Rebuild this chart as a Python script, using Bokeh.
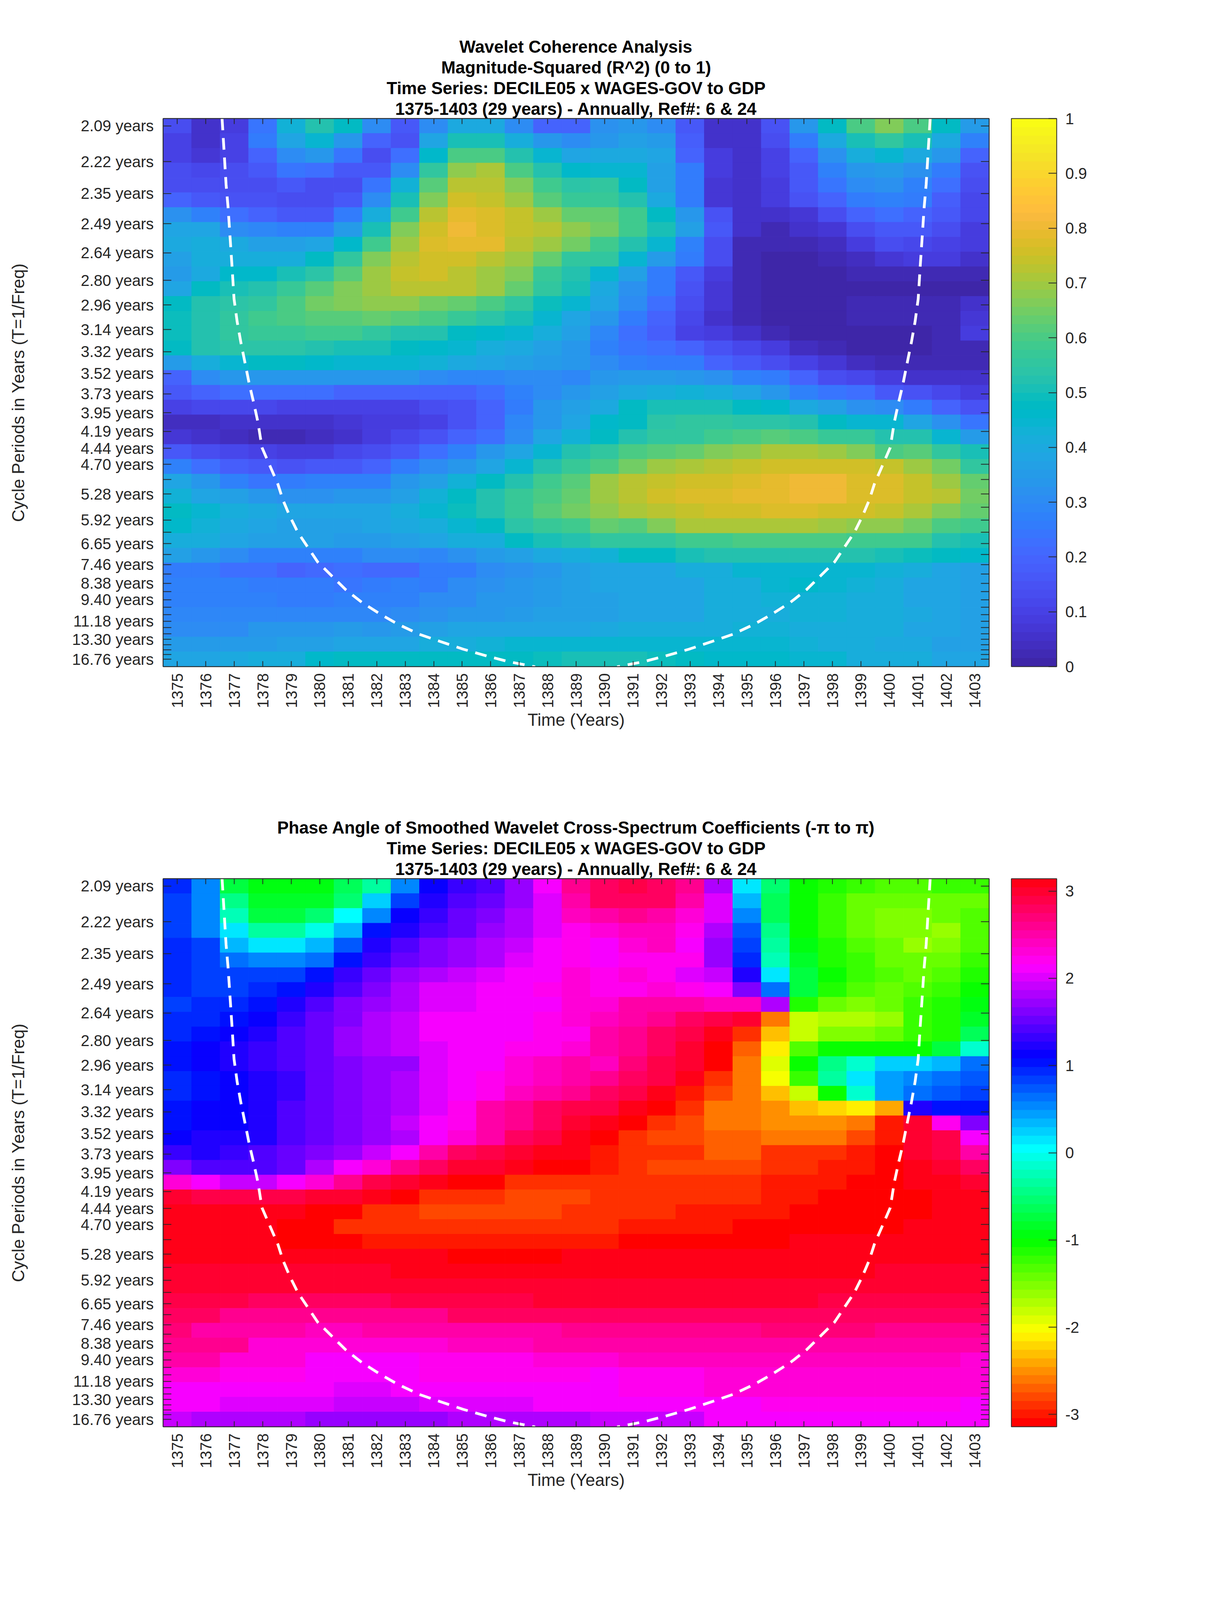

import numpy as np
from bokeh.plotting import figure
from bokeh.layouts import column
from bokeh.models import (ColumnDataSource, LinearColorMapper, ColorBar, FixedTicker,
                          LinearAxis, Range1d, Title)
from bokeh.embed import file_html
from bokeh.resources import INLINE

years = list(range(1375, 1404))
periods = [2.09,2.22,2.35,2.49,2.64,2.80,2.96,3.14,3.32,3.52,3.73,3.95,4.19,4.44,4.70,4.98,5.28,5.59,5.92,6.27,
           6.65,7.04,7.46,7.90,8.38,8.88,9.40,9.96,10.55,11.18,11.85,12.55,13.30,14.09,14.93,15.82,16.76]
hidden_labels = [4.98,5.59,6.27,7.04,7.90,8.88,9.96,10.55,11.85,12.55,14.09,14.93,15.82]

coherence = [
[.14,.05,.08,.24,.43,.52,.47,.30,.17,.30,.40,.40,.30,.20,.19,.32,.33,.30,.17,.05,.06,.15,.33,.47,.60,.67,.60,.48,.35],
[.10,.05,.10,.25,.38,.44,.33,.19,.15,.38,.50,.50,.42,.33,.30,.33,.36,.35,.18,.06,.06,.13,.25,.40,.50,.55,.50,.40,.27],
[.10,.07,.10,.20,.31,.33,.24,.14,.22,.46,.60,.60,.52,.45,.38,.40,.40,.38,.20,.08,.06,.10,.20,.32,.42,.45,.40,.33,.20],
[.13,.12,.13,.16,.24,.22,.16,.16,.31,.55,.68,.71,.60,.53,.46,.45,.45,.36,.25,.08,.06,.10,.17,.27,.34,.35,.32,.25,.15],
[.13,.13,.13,.14,.16,.14,.14,.24,.43,.62,.73,.73,.66,.58,.54,.55,.47,.36,.25,.07,.05,.09,.16,.24,.30,.32,.28,.22,.14],
[.20,.17,.15,.15,.14,.14,.16,.31,.50,.66,.75,.74,.70,.62,.57,.57,.52,.40,.26,.07,.05,.08,.15,.20,.26,.28,.26,.18,.12],
[.32,.28,.23,.20,.17,.17,.25,.42,.59,.73,.79,.77,.74,.70,.64,.64,.58,.48,.34,.15,.05,.05,.07,.13,.20,.22,.20,.16,.12],
[.38,.38,.31,.29,.27,.28,.35,.50,.66,.75,.80,.78,.74,.72,.68,.65,.58,.50,.37,.17,.05,.02,.05,.07,.14,.16,.16,.14,.09],
[.40,.42,.40,.37,.36,.38,.46,.58,.70,.77,.79,.79,.72,.70,.65,.58,.52,.45,.28,.14,.03,.02,.02,.04,.09,.13,.12,.10,.08],
[.37,.42,.42,.41,.42,.48,.55,.66,.73,.76,.76,.72,.70,.64,.56,.55,.45,.35,.25,.13,.03,.01,.01,.02,.04,.07,.08,.08,.05],
[.35,.40,.46,.46,.50,.54,.62,.70,.74,.75,.73,.70,.66,.57,.52,.45,.36,.26,.17,.08,.03,.01,.01,.01,.02,.02,.03,.03,.03],
[.39,.47,.50,.53,.57,.61,.66,.70,.73,.73,.72,.70,.63,.55,.50,.40,.32,.25,.15,.07,.03,.01,.01,.01,.01,.01,.00,.00,.00],
[.47,.52,.54,.56,.60,.65,.67,.68,.68,.65,.63,.60,.55,.49,.44,.38,.30,.22,.14,.07,.03,.01,.01,.01,.02,.02,.02,.02,.05],
[.49,.53,.56,.59,.60,.62,.62,.63,.62,.60,.57,.54,.50,.44,.38,.33,.25,.19,.12,.06,.03,.01,.01,.01,.02,.02,.02,.02,.07],
[.49,.53,.55,.57,.57,.59,.59,.56,.53,.53,.48,.46,.45,.42,.36,.29,.22,.18,.10,.09,.06,.03,.01,.01,.01,.01,.01,.03,.08],
[.47,.52,.54,.54,.54,.52,.50,.50,.47,.46,.44,.42,.40,.37,.34,.28,.24,.22,.20,.15,.12,.08,.04,.03,.01,.01,.01,.02,.03],
[.35,.42,.45,.47,.47,.46,.45,.44,.44,.43,.40,.39,.37,.35,.33,.30,.28,.26,.26,.20,.17,.13,.10,.07,.04,.03,.03,.03,.02],
[.20,.30,.33,.33,.33,.34,.33,.33,.33,.30,.29,.29,.30,.30,.29,.33,.35,.35,.34,.32,.27,.25,.20,.14,.12,.08,.06,.05,.05],
[.16,.20,.22,.22,.22,.22,.20,.20,.20,.20,.20,.22,.27,.30,.33,.36,.40,.42,.43,.42,.38,.34,.27,.24,.22,.17,.15,.12,.08],
[.10,.11,.11,.12,.10,.10,.10,.10,.10,.13,.15,.19,.25,.33,.37,.40,.47,.50,.50,.50,.48,.46,.40,.36,.32,.30,.25,.20,.15],
[.04,.04,.05,.05,.05,.05,.07,.08,.09,.10,.15,.19,.29,.33,.38,.46,.48,.54,.55,.55,.54,.54,.52,.48,.45,.45,.38,.32,.24],
[.07,.06,.04,.02,.02,.04,.06,.08,.11,.15,.20,.23,.31,.38,.43,.47,.52,.56,.56,.58,.60,.62,.60,.57,.57,.53,.52,.45,.35],
[.16,.14,.11,.10,.09,.09,.11,.13,.16,.22,.28,.33,.38,.44,.52,.56,.60,.62,.63,.66,.68,.71,.71,.70,.67,.60,.62,.55,.50],
[.27,.22,.18,.16,.15,.16,.17,.20,.25,.30,.34,.38,.45,.52,.57,.60,.65,.69,.71,.73,.74,.75,.75,.75,.75,.74,.70,.65,.56],
[.38,.33,.28,.24,.25,.27,.27,.28,.33,.37,.43,.47,.52,.58,.61,.69,.72,.74,.75,.76,.78,.79,.81,.81,.78,.78,.74,.70,.63],
[.43,.38,.36,.34,.32,.32,.33,.34,.37,.43,.48,.52,.57,.60,.63,.70,.73,.75,.77,.78,.79,.79,.81,.81,.78,.78,.74,.72,.65],
[.47,.44,.41,.40,.39,.38,.38,.39,.42,.45,.49,.53,.57,.62,.65,.68,.71,.73,.74,.75,.76,.77,.77,.76,.75,.74,.71,.67,.64],
[.46,.43,.40,.38,.37,.37,.37,.38,.40,.41,.45,.48,.54,.57,.59,.63,.62,.66,.71,.71,.71,.71,.71,.69,.68,.68,.65,.60,.58],
[.41,.41,.38,.37,.36,.36,.35,.35,.36,.38,.41,.42,.47,.50,.52,.55,.56,.56,.58,.58,.60,.60,.60,.60,.58,.58,.58,.53,.50],
[.37,.33,.31,.28,.28,.28,.28,.30,.30,.29,.32,.35,.37,.40,.42,.43,.47,.48,.50,.52,.52,.52,.52,.52,.52,.50,.49,.47,.46],
[.25,.25,.22,.22,.20,.21,.22,.21,.21,.25,.25,.30,.32,.34,.36,.38,.39,.39,.42,.42,.44,.45,.45,.45,.44,.43,.41,.39,.37],
[.27,.27,.27,.25,.25,.25,.24,.25,.27,.26,.30,.32,.33,.35,.36,.38,.38,.39,.39,.41,.42,.45,.46,.44,.43,.41,.39,.38,.36],
[.27,.27,.27,.27,.26,.26,.27,.27,.28,.30,.31,.33,.34,.35,.36,.37,.38,.38,.39,.41,.42,.43,.43,.43,.42,.41,.39,.38,.36],
[.29,.29,.29,.29,.29,.29,.29,.29,.31,.32,.33,.34,.35,.36,.37,.37,.38,.38,.38,.41,.42,.42,.43,.43,.42,.41,.40,.39,.37],
[.31,.31,.31,.34,.34,.34,.35,.34,.35,.37,.38,.38,.38,.39,.39,.40,.41,.41,.41,.42,.43,.43,.42,.41,.41,.41,.39,.38,.36],
[.35,.35,.35,.35,.37,.37,.38,.38,.38,.41,.42,.43,.44,.44,.44,.45,.45,.45,.45,.45,.45,.44,.43,.42,.41,.40,.40,.37,.36],
[.39,.39,.40,.41,.42,.46,.47,.48,.48,.48,.47,.47,.48,.49,.50,.50,.50,.49,.48,.46,.46,.46,.45,.45,.42,.42,.41,.38,.38],
]

phase = [
[.95,.55,-.7,-.95,-.95,-.95,-.65,-.3,.5,1.1,1.35,1.4,1.75,2.1,2.6,2.75,2.9,2.8,2.6,1.8,.15,-.55,-1.0,-1.15,-1.25,-1.3,-1.3,-1.25,-1.25],
[.8,.5,-.4,-.85,-.85,-.85,-.55,.2,.8,1.25,1.4,1.5,1.7,2.0,2.5,2.75,2.8,2.75,2.5,2.0,.35,-.6,-1.05,-1.25,-1.4,-1.4,-1.4,-1.4,-1.4],
[.8,.5,-.2,-.75,-.75,-.55,0.0,.5,1.15,1.35,1.5,1.6,1.8,2.05,2.45,2.5,2.6,2.55,2.35,2.0,.55,-.6,-1.05,-1.25,-1.4,-1.55,-1.55,-1.4,-1.35],
[.8,.55,.1,-.3,-.3,-.05,.3,1.0,1.2,1.4,1.55,1.7,1.85,2.05,2.25,2.35,2.45,2.4,2.25,1.8,.75,-.4,-1.0,-1.2,-1.4,-1.5,-1.55,-1.6,-1.35],
[.95,.8,.35,.1,.1,.3,.75,1.2,1.4,1.6,1.75,1.8,1.95,2.1,2.25,2.1,2.35,2.4,2.15,1.75,.85,-.35,-.95,-1.15,-1.35,-1.45,-1.6,-1.5,-1.35],
[.95,.85,.65,.5,.5,.65,1.05,1.35,1.5,1.65,1.75,1.85,2.0,2.1,2.25,2.15,2.25,2.25,2.2,1.75,.95,-.2,-.85,-1.1,-1.25,-1.4,-1.4,-1.4,-1.2],
[.95,.85,.8,.8,.8,1.0,1.3,1.5,1.7,1.85,1.9,2.0,2.1,2.15,2.3,2.2,2.3,2.25,2.05,1.95,1.2,.15,-.75,-1.05,-1.2,-1.35,-1.4,-1.3,-1.15],
[.95,.85,.85,.95,1.0,1.2,1.4,1.6,1.85,2.0,2.0,2.1,2.1,2.25,2.35,2.2,2.2,2.3,2.2,2.1,1.65,.6,-.75,-1.1,-1.35,-1.45,-1.35,-1.2,-1.0],
[.85,.95,.95,1.0,1.25,1.4,1.6,1.75,1.85,2.0,2.0,2.1,2.1,2.15,2.35,2.3,2.5,2.5,2.5,2.45,2.4,1.85,-1.15,-1.4,-1.5,-1.4,-1.2,-1.1,-.9],
[.95,.95,1.0,1.1,1.3,1.5,1.65,1.8,1.95,2.1,2.1,2.1,2.1,2.2,2.3,2.4,2.55,2.65,2.75,2.85,3.0,-2.6,-1.85,-1.75,-1.75,-1.6,-1.2,-1.1,-.85],
[.95,1.05,1.1,1.25,1.45,1.55,1.7,1.85,1.95,2.1,2.1,2.1,2.15,2.2,2.25,2.5,2.6,2.8,2.85,3.1,-2.85,-2.35,-1.8,-1.55,-1.55,-1.4,-1.2,-1.1,-.6],
[1.05,1.15,1.2,1.35,1.4,1.55,1.75,1.85,1.9,2.05,2.1,2.1,2.2,2.2,2.3,2.5,2.65,2.8,2.95,-3.14,-2.7,-2.1,-1.35,-1.05,-1.0,-1.0,-1.0,-.75,-.1],
[1.05,1.15,1.2,1.35,1.4,1.5,1.6,1.7,1.75,2.05,2.1,2.15,2.3,2.4,2.5,2.45,2.7,2.85,3.0,-3.05,-2.6,-1.95,-1.05,-.45,-.1,.2,.25,.35,.6],
[.95,1.05,1.1,1.2,1.35,1.5,1.6,1.7,1.8,2.0,2.1,2.2,2.3,2.4,2.5,2.6,2.8,2.9,3.1,-2.9,-2.6,-2.05,-1.2,-.3,.15,.4,.55,.65,.7],
[.95,1.05,1.1,1.25,1.35,1.5,1.6,1.7,1.85,2.0,2.15,2.25,2.4,2.5,2.6,2.75,2.85,3.1,-3.0,-2.8,-2.6,-2.35,-1.85,-1.05,-.1,.4,.6,.7,.8],
[1.05,1.1,1.15,1.25,1.45,1.55,1.65,1.7,1.85,2.0,2.2,2.5,2.6,2.8,2.85,2.9,3.05,-3.14,-2.85,-2.6,-2.6,-2.5,-2.35,-2.25,-2.1,-2.45,1.2,1.05,1.05],
[1.05,1.1,1.15,1.2,1.4,1.5,1.6,1.75,1.9,2.1,2.2,2.5,2.65,2.8,2.95,3.05,-3.14,-2.85,-2.75,-2.65,-2.6,-2.55,-2.5,-2.5,-2.65,-2.95,2.95,2.25,1.65],
[1.15,1.2,1.25,1.25,1.4,1.5,1.6,1.75,1.85,2.1,2.3,2.55,2.75,2.85,3.05,-3.14,-2.85,-2.8,-2.8,-2.7,-2.7,-2.6,-2.65,-2.65,-2.8,-3.0,3.0,2.85,2.1],
[1.35,1.25,1.3,1.45,1.55,1.6,1.7,1.95,2.1,2.55,2.8,2.9,2.95,3.1,3.14,-3.0,-2.9,-2.85,-2.85,-2.7,-2.7,-2.85,-2.85,-2.9,-2.95,-3.14,3.0,2.85,2.55],
[1.65,1.45,1.4,1.4,1.55,1.8,2.1,2.3,2.6,2.75,2.95,3.0,3.14,-3.05,-3.05,-2.95,-2.85,-2.8,-2.8,-2.8,-2.8,-2.9,-2.9,-3.0,-3.0,-3.14,3.1,2.95,2.75],
[2.3,2.15,1.95,1.9,2.15,2.35,2.65,2.85,2.95,3.05,-3.14,-3.05,-2.9,-2.9,-2.9,-2.9,-2.9,-2.9,-2.9,-2.9,-2.9,-3.0,-3.0,-3.0,-3.1,-3.14,3.05,3.05,2.95],
[3.0,2.9,2.85,2.85,2.85,2.95,3.0,3.14,-3.05,-2.9,-2.9,-2.9,-2.8,-2.8,-2.8,-2.9,-2.9,-2.9,-2.9,-2.9,-2.9,-3.0,-3.0,-3.14,-3.14,-3.14,-3.14,3.14,3.1],
[3.05,3.05,3.05,3.05,3.14,-3.05,-3.05,-2.9,-2.9,-2.75,-2.75,-2.75,-2.75,-2.75,-2.9,-2.9,-2.9,-2.9,-3.0,-3.0,-3.0,-3.0,-3.14,-3.14,-3.14,-3.14,-3.14,3.14,3.14],
[3.05,3.05,3.14,3.14,-3.05,-3.05,-2.9,-2.9,-2.9,-2.9,-2.9,-2.9,-2.9,-2.9,-2.9,-2.9,-3.0,-3.0,-3.0,-3.0,-3.14,-3.14,-3.14,-3.14,-3.14,-3.14,3.1,3.1,3.1],
[3.1,3.1,3.14,3.14,-3.14,-3.14,-3.14,-3.0,-3.0,-3.0,-3.0,-3.0,-3.0,-3.0,-3.0,-3.0,-3.14,-3.14,-3.14,-3.14,-3.14,-3.14,3.1,3.1,3.1,3.1,3.1,3.05,3.05],
[3.08,3.08,3.08,3.08,3.08,3.12,3.12,3.12,3.12,3.12,-3.14,-3.14,-3.14,-3.14,3.12,3.12,3.12,3.12,3.12,3.12,3.12,3.12,3.12,3.12,3.12,3.12,3.05,3.05,3.05],
[3.0,3.0,3.0,3.0,3.0,3.0,3.0,3.0,3.05,3.05,3.05,3.05,3.05,3.05,3.05,3.05,3.05,3.05,3.05,3.05,3.05,3.05,3.05,3.05,3.05,3.0,3.0,3.0,3.0],
[2.95,2.95,2.95,2.95,2.95,2.95,2.95,2.95,2.95,2.95,2.95,3.0,3.0,3.0,3.0,3.0,3.0,3.0,3.0,3.0,3.0,3.0,3.0,3.0,3.0,3.0,2.95,2.95,2.95],
[2.9,2.9,2.9,2.8,2.8,2.8,2.8,2.8,2.9,2.9,2.9,2.9,2.9,2.95,2.95,2.95,2.95,2.95,2.95,2.95,2.95,2.95,2.95,2.9,2.9,2.9,2.9,2.9,2.9],
[2.8,2.8,2.65,2.65,2.65,2.65,2.65,2.65,2.65,2.65,2.75,2.75,2.75,2.75,2.8,2.8,2.8,2.8,2.8,2.8,2.8,2.8,2.8,2.8,2.75,2.75,2.75,2.75,2.75],
[2.7,2.55,2.55,2.55,2.55,2.45,2.45,2.55,2.55,2.55,2.55,2.55,2.55,2.55,2.65,2.6,2.6,2.6,2.6,2.6,2.6,2.7,2.7,2.7,2.7,2.6,2.6,2.6,2.6],
[2.6,2.6,2.6,2.35,2.35,2.35,2.35,2.35,2.35,2.35,2.45,2.45,2.45,2.55,2.55,2.5,2.5,2.55,2.55,2.55,2.55,2.55,2.55,2.55,2.55,2.55,2.55,2.55,2.55],
[2.5,2.5,2.35,2.35,2.35,2.1,2.1,2.1,2.1,2.2,2.2,2.2,2.2,2.35,2.35,2.3,2.4,2.4,2.4,2.45,2.45,2.45,2.45,2.45,2.45,2.45,2.45,2.45,2.3],
[2.35,2.35,2.18,2.18,2.18,2.15,2.15,2.15,2.15,2.2,2.2,2.2,2.2,2.25,2.25,2.15,2.2,2.2,2.2,2.3,2.3,2.3,2.3,2.3,2.3,2.3,2.3,2.3,2.3],
[2.09,2.09,2.09,2.09,2.09,2.09,1.98,1.98,2.09,2.09,2.09,2.09,2.09,2.09,2.09,2.15,2.2,2.2,2.2,2.3,2.3,2.3,2.3,2.3,2.3,2.3,2.3,2.3,2.3],
[2.09,2.09,1.98,1.98,1.98,1.98,1.87,1.87,1.87,1.98,1.98,1.98,1.98,2.09,2.09,2.09,2.09,2.12,2.12,2.12,2.12,2.2,2.2,2.2,2.2,2.2,2.2,2.2,2.09],
[1.92,1.8,1.8,1.8,1.8,1.7,1.7,1.7,1.7,1.7,1.78,1.78,1.78,1.85,1.85,1.95,1.95,1.87,1.87,2.09,2.09,2.09,2.09,2.09,2.09,2.09,2.09,2.09,2.09],
]

# cone of influence (year, frequency)
coi_left_x = [1376.57,1376.71,1376.78,1376.85,1376.92,1376.99,1377.10,1377.23,1377.41,1377.52,1377.69,1377.83,1377.97,1378.25,1378.53,1378.71,1378.95,1379.23,1379.58,1379.93,1380.42,1380.91,1381.47,1382.10,1382.73,1383.50,1384.20,1385.04,1385.88,1386.65,1387.56]
coi_right_x = [1401.43,1401.29,1401.22,1401.15,1401.08,1401.01,1400.90,1400.77,1400.59,1400.48,1400.31,1400.17,1400.03,1399.75,1399.47,1399.29,1399.05,1398.77,1398.42,1398.07,1397.58,1397.09,1396.53,1395.90,1395.27,1394.50,1393.80,1392.96,1392.12,1391.35,1390.44]
coi_freq = [.4843,.4326,.4146,.3912,.3678,.3426,.3246,.3084,.2886,.2763,.2601,.2457,.2259,.2115,.1971,.1845,.1719,.1593,.1476,.1359,.1251,.1143,.1044,.0954,.0873,.0792,.0738,.0675,.0621,.0576,.0537]

parula64 = [
(0.2422,0.1504,0.6603),(0.2504,0.1650,0.7076),(0.2578,0.1818,0.7511),(0.2647,0.1978,0.7952),(0.2706,0.2147,0.8364),(0.2751,0.2342,0.8710),(0.2783,0.2559,0.8991),(0.2803,0.2782,0.9221),
(0.2813,0.3006,0.9414),(0.2810,0.3228,0.9579),(0.2795,0.3447,0.9717),(0.2760,0.3667,0.9829),(0.2699,0.3892,0.9906),(0.2602,0.4123,0.9952),(0.2440,0.4358,0.9988),(0.2206,0.4603,0.9973),
(0.1963,0.4847,0.9892),(0.1834,0.5074,0.9798),(0.1786,0.5289,0.9682),(0.1764,0.5499,0.9520),(0.1687,0.5703,0.9359),(0.1540,0.5902,0.9218),(0.1460,0.6091,0.9079),(0.1380,0.6276,0.8973),
(0.1248,0.6459,0.8883),(0.1113,0.6635,0.8763),(0.0952,0.6798,0.8598),(0.0689,0.6948,0.8394),(0.0297,0.7082,0.8163),(0.0036,0.7203,0.7917),(0.0067,0.7312,0.7660),(0.0433,0.7411,0.7394),
(0.0964,0.7500,0.7120),(0.1408,0.7584,0.6842),(0.1717,0.7670,0.6554),(0.1938,0.7758,0.6251),(0.2161,0.7843,0.5923),(0.2470,0.7918,0.5567),(0.2906,0.7973,0.5188),(0.3406,0.8008,0.4789),
(0.3909,0.8029,0.4354),(0.4456,0.8024,0.3909),(0.5044,0.7993,0.3480),(0.5616,0.7942,0.3045),(0.6174,0.7876,0.2612),(0.6720,0.7793,0.2227),(0.7242,0.7698,0.1910),(0.7738,0.7598,0.1646),
(0.8203,0.7498,0.1535),(0.8634,0.7406,0.1596),(0.9035,0.7330,0.1774),(0.9393,0.7288,0.2100),(0.9728,0.7298,0.2394),(0.9956,0.7434,0.2371),(0.9970,0.7659,0.2199),(0.9952,0.7893,0.2028),
(0.9892,0.8136,0.1885),(0.9786,0.8386,0.1766),(0.9676,0.8639,0.1643),(0.9610,0.8890,0.1537),(0.9597,0.9135,0.1423),(0.9628,0.9373,0.1265),(0.9691,0.9606,0.1064),(0.9769,0.9839,0.0805)]

def to_hex(rgb):
    return "#%02x%02x%02x" % tuple(int(round(c * 255)) for c in rgb)

def hsv_palette(n):
    out = []
    for i in range(n):
        h = i / n * 6
        k = int(h)
        f = h - k
        rgb = [(1, f, 0), (1 - f, 1, 0), (0, 1, f), (0, 1 - f, 1), (f, 0, 1), (1, 0, 1 - f)][k]
        out.append(to_hex(rgb))
    return out

INK = "#262626"
FONT = "Liberation Sans"
TICK = "40px"
LABEL = "44px"
PAGE_W = 3109
LEFT, RIGHT = 417, 578
FRAME_H = 1403


def make_panel(values, palette, low, high, bar_ticks, title_lines, height, top, bottom):
    freq_top = 1 / periods[0]
    freq_bot = 1 / periods[-1]
    step = (freq_top - freq_bot) / (len(periods) - 1)
    centers = np.linspace(freq_top, freq_bot, len(periods))

    xs, ys, vs = [], [], []
    for r, row in enumerate(values):
        for c, v in enumerate(row):
            xs.append(years[c]); ys.append(centers[r]); vs.append(v)
    src = ColumnDataSource(dict(x=xs, y=ys, v=vs))

    mapper = LinearColorMapper(palette=palette, low=low, high=high)
    p = figure(width=PAGE_W, height=height, output_backend="svg", toolbar_location=None,
               x_range=Range1d(years[0] - .5, years[-1] + .5),
               y_range=Range1d(freq_bot - step / 2, freq_top + step / 2),
               x_axis_type=None, y_axis_type=None,
               min_border_left=LEFT, min_border_right=RIGHT, min_border_top=top, min_border_bottom=bottom)
    p.background_fill_color = None
    p.border_fill_color = None
    p.outline_line_color = INK
    p.outline_line_width = 2
    p.grid.visible = False

    p.rect("x", "y", 1, step, source=src,
           fill_color={"field": "v", "transform": mapper},
           line_color={"field": "v", "transform": mapper}, line_width=1)

    p.line(coi_left_x, coi_freq, line_color="white", line_width=7, line_dash="30 20")
    p.line(coi_right_x, coi_freq, line_color="white", line_width=7, line_dash="30 20")

    def style(ax, tick_len):
        ax.major_tick_in = tick_len
        ax.major_tick_out = 0
        ax.minor_tick_in = tick_len
        ax.minor_tick_out = 0
        ax.major_tick_line_color = INK
        ax.major_tick_line_width = 2
        ax.minor_tick_line_color = INK
        ax.minor_tick_line_width = 2
        ax.axis_line_color = INK
        ax.axis_line_width = 2
        ax.major_label_text_color = INK
        ax.major_label_text_font = FONT
        ax.major_label_text_font_size = TICK
        ax.axis_label_text_color = INK
        ax.axis_label_text_font = FONT
        ax.axis_label_text_font_size = LABEL
        ax.axis_label_text_font_style = "normal"

    y_major = [1 / t for t in periods if t not in hidden_labels]
    y_minor = [1 / t for t in hidden_labels]
    y_labels = {1 / t: "%.2f years" % t for t in periods if t not in hidden_labels}
    every_y = [1 / t for t in periods]

    bottom_ax = LinearAxis(ticker=FixedTicker(ticks=years), axis_label="Time (Years)")
    style(bottom_ax, 14)
    bottom_ax.major_label_orientation = np.pi / 2
    bottom_ax.major_label_standoff = 17
    bottom_ax.axis_label_standoff = 3
    p.add_layout(bottom_ax, "below")

    left_ax = LinearAxis(ticker=FixedTicker(ticks=y_major, minor_ticks=y_minor),
                         major_label_overrides=y_labels,
                         axis_label="Cycle Periods in Years (T=1/Freq)")
    style(left_ax, 21)
    left_ax.major_label_standoff = 24
    left_ax.axis_label_standoff = 110
    p.add_layout(left_ax, "left")

    top_ax = LinearAxis(ticker=FixedTicker(ticks=[], minor_ticks=years))
    style(top_ax, 14)
    p.add_layout(top_ax, "above")

    right_ax = LinearAxis(ticker=FixedTicker(ticks=[], minor_ticks=every_y))
    style(right_ax, 21)
    p.add_layout(right_ax, "right")

    for i, line in enumerate(reversed(title_lines)):
        t = Title(text=line, align="center", text_font=FONT, text_font_size=LABEL,
                  text_font_style="bold", text_color="black", standoff=2)
        p.add_layout(t, "above")

    frame_w = PAGE_W - LEFT - RIGHT
    bar = ColorBar(color_mapper=mapper, width=116, height=FRAME_H, location=(frame_w + 57, 0), margin=0, padding=0,
                   ticker=FixedTicker(ticks=bar_ticks),
                   major_label_overrides={v: ("%g" % v) for v in bar_ticks},
                   major_tick_in=21, major_tick_out=0, major_tick_line_color=INK, major_tick_line_width=2,
                   bar_line_color=INK, bar_line_width=2, minor_tick_in=0, minor_tick_out=0,
                   major_label_text_font=FONT, major_label_text_font_size=TICK, major_label_text_color=INK,
                   label_standoff=22, background_fill_color=None, border_line_color=None)
    p.add_layout(bar)
    return p


top_titles = ["Wavelet Coherence Analysis", "Magnitude-Squared (R^2) (0 to 1)",
              "Time Series: DECILE05 x WAGES-GOV to GDP", "1375-1403 (29 years) - Annually, Ref#: 6 & 24"]
bottom_titles = ["Phase Angle of Smoothed Wavelet Cross-Spectrum Coefficients (-\u03c0 to \u03c0)",
                 "Time Series: DECILE05 x WAGES-GOV to GDP", "1375-1403 (29 years) - Annually, Ref#: 6 & 24"]
coherence_ticks = [0, .1, .2, .3, .4, .5, .6, .7, .8, .9, 1]
phase_ticks = [-3, -2, -1, 0, 1, 2, 3]

p1 = make_panel(coherence, [to_hex(c) for c in parula64], 0, 1, coherence_ticks, top_titles,
                1966, 303, 260)
p2 = make_panel(phase, hsv_palette(64), -np.pi, np.pi, phase_ticks, bottom_titles,
                2131, 283, 445)

page = column(p1, p2, spacing=0)
open("out.html", "w").write(file_html(page, INLINE))
